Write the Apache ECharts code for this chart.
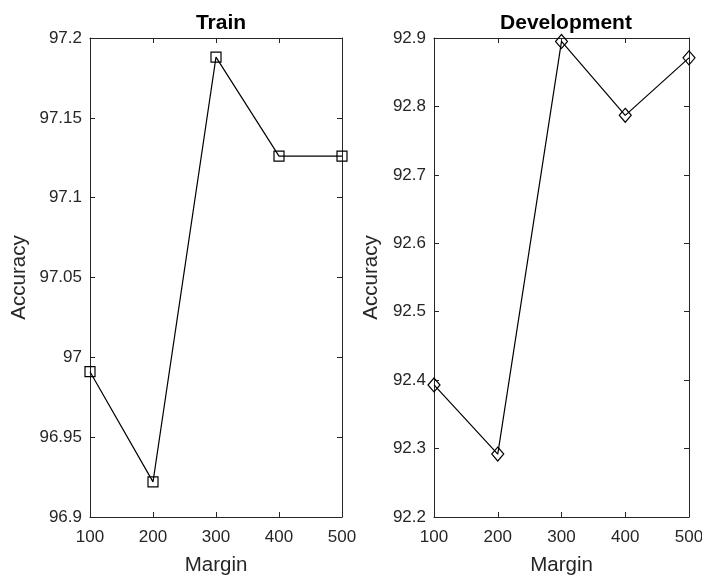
<!DOCTYPE html>
<html>
<head>
<meta charset="utf-8">
<script src="https://cdn.jsdelivr.net/npm/echarts@6/dist/echarts.min.js"></script>
<style>html,body{margin:0;padding:0;background:#fff;}#c{width:702px;height:577px;}</style>
</head>
<body>
<div id="c"></div>
<script>
var margins = [100, 200, 300, 400, 500];
var trainAcc = [96.991, 96.922, 97.188, 97.126, 97.126];
var devAcc = [92.393, 92.292, 92.895, 92.787, 92.871];
var titles = ['Train', 'Development'];
var xLabel = 'Margin';
var yLabel = 'Accuracy';

var FONT = '"Liberation Sans", Arial, Helvetica, sans-serif';
var AX = '#262626';
var chart = echarts.init(document.getElementById('c'));

function xAx(gi, pos, show) {
  return {
    type: 'value', gridIndex: gi, position: pos, min: 100, max: 500, interval: 100,
    name: show ? xLabel : '', nameLocation: 'middle', nameGap: 38,
    nameTextStyle: {color: AX, fontFamily: FONT, fontSize: 20.5},
    axisLine: {show: true, onZero: false, lineStyle: {color: AX, width: 1}},
    axisTick: {show: true, inside: true, length: 5, lineStyle: {color: AX}},
    axisLabel: {show: show, color: AX, fontFamily: FONT, fontSize: 17, margin: 12},
    splitLine: {show: false}
  };
}
function yAx(gi, pos, show, mn, mx, iv, gap) {
  return {
    type: 'value', gridIndex: gi, position: pos, min: mn, max: mx, interval: iv,
    name: show ? yLabel : '', nameLocation: 'middle', nameGap: gap,
    nameTextStyle: {color: AX, fontFamily: FONT, fontSize: 20.5},
    axisLine: {show: true, onZero: false, lineStyle: {color: AX, width: 1}},
    axisTick: {show: true, inside: true, length: 5, lineStyle: {color: AX}},
    axisLabel: {show: show, color: AX, fontFamily: FONT, fontSize: 17, margin: 8},
    splitLine: {show: false}
  };
}

chart.setOption({
  animation: false,
  backgroundColor: '#fff',
  title: [
    {text: titles[0], left: 216, top: 8, textAlign: 'center',
     textStyle: {color: '#000', fontFamily: FONT, fontSize: 21, fontWeight: 'bold'}},
    {text: titles[1], left: 561, top: 8, textAlign: 'center',
     textStyle: {color: '#000', fontFamily: FONT, fontSize: 21, fontWeight: 'bold'}}
  ],
  grid: [
    {left: 90, right: 360, top: 38, bottom: 60, containLabel: false, outerBoundsMode: 'none'},
    {left: 434, right: 13, top: 38, bottom: 60, containLabel: false, outerBoundsMode: 'none'}
  ],
  xAxis: [xAx(0, 'bottom', true), xAx(0, 'top', false), xAx(1, 'bottom', true), xAx(1, 'top', false)],
  yAxis: [
    yAx(0, 'left', true, 96.9, 97.2, 0.05, 60),
    yAx(0, 'right', false, 96.9, 97.2, 0.05, 0),
    yAx(1, 'left', true, 92.2, 92.9, 0.1, 52),
    yAx(1, 'right', false, 92.2, 92.9, 0.1, 0)
  ],
  series: [
    {type: 'line', xAxisIndex: 0, yAxisIndex: 0,
     data: margins.map(function (m, i) { return [m, trainAcc[i]]; }),
     symbol: 'rect', symbolSize: 10, showAllSymbol: true,
     lineStyle: {color: '#000', width: 1.2},
     itemStyle: {color: 'rgba(255,255,255,0)', borderColor: '#000', borderWidth: 1.2}},
    {type: 'line', xAxisIndex: 2, yAxisIndex: 2,
     data: margins.map(function (m, i) { return [m, devAcc[i]]; }),
     symbol: 'diamond', symbolSize: [12, 14], showAllSymbol: true,
     lineStyle: {color: '#000', width: 1.2},
     itemStyle: {color: 'rgba(255,255,255,0)', borderColor: '#000', borderWidth: 1.2}}
  ]
});
</script>
</body>
</html>
